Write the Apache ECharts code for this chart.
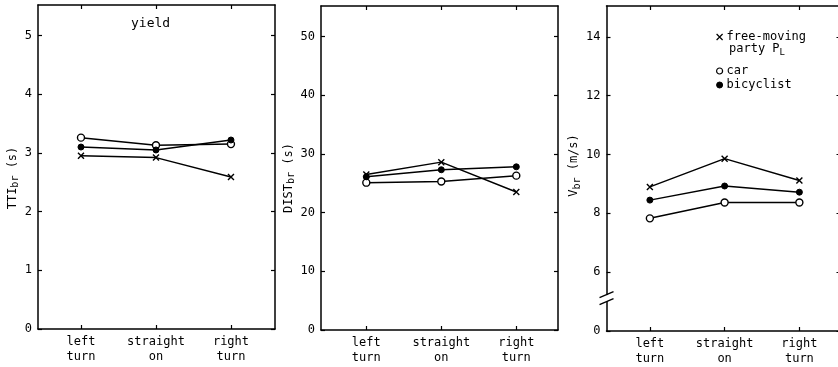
<!DOCTYPE html>
<html>
<head>
<meta charset="utf-8">
<script src="https://cdn.jsdelivr.net/npm/echarts@6/dist/echarts.min.js"></script>
<style>html,body{margin:0;padding:0;background:#fff;}#c{width:838px;height:367px;}</style>
</head>
<body>
<div id="c"></div>
<script>
// ---- data ----
const categories = ['left\nturn', 'straight\non', 'right\nturn'];
const seriesNames = ['free-moving', 'car', 'bicyclist'];

const ttiFree = [2.95, 2.92, 2.59];
const ttiCar  = [3.26, 3.13, 3.15];
const ttiBike = [3.10, 3.05, 3.22];

const distFree = [26.5, 28.6, 23.5];
const distCar  = [25.1, 25.3, 26.3];
const distBike = [26.1, 27.3, 27.8];

const vFree = [8.90, 9.86, 9.12];
const vCar  = [7.83, 8.37, 8.37];
const vBike = [8.45, 8.93, 8.72];

const ttiTicks = [0, 1, 2, 3, 4, 5];
const ttiTickLabels = ['0', '1', '2', '3', '4', '5'];
const distTicks = [0, 10, 20, 30, 40, 50];
const distTickLabels = ['0', '10', '20', '30', '40', '50'];
const vTicks = [4, 6, 8, 10, 12, 14];
const vTickLabels = ['0', '6', '8', '10', '12', '14']; // broken axis: bottom labelled 0

// ---- layout / style ----
const FONT = 'DejaVu Sans Mono';
const panels = [
  {left: 38, top: 5, width: 237, height: 324, xmin: -0.573, xmax: 2.587, ymin: 0, ymax: 5.52,
   ticks: ttiTicks, labels: ttiTickLabels, data: [ttiFree, ttiCar, ttiBike],
   name: '{a|TTI}{b|br}{a| (s)}', nameGap: 14, namePad: [0, 22, 0, 0]},
  {left: 321, top: 6, width: 237, height: 324, xmin: -0.604, xmax: 2.556, ymin: 0, ymax: 55.2,
   ticks: distTicks, labels: distTickLabels, data: [distFree, distCar, distBike],
   name: '{a|DIST}{b|br}{a| (s)}', nameGap: 22, namePad: [0, 20, 0, 0]},
  {left: 606.5, top: 6, width: 234, height: 325, xmin: -0.58, xmax: 2.55, ymin: 4, ymax: 15.05,
   ticks: vTicks, labels: vTickLabels, data: [vFree, vCar, vBike],
   name: '{a|V}{b|br}{a| (m/s)}', nameGap: 22, namePad: [0, 0, 0, 6]}
];
const catIdx = categories.map((c, i) => i);
const xPath = 'path://M0,0L10,10M10,0L0,10';
const symbolDefs = [
  {symbol: xPath, size: 6, itemStyle: {color: '#000', borderColor: '#000', borderWidth: 1.4}},
  {symbol: 'circle', size: 7, itemStyle: {color: '#fff', borderColor: '#000', borderWidth: 1.4}},
  {symbol: 'circle', size: 6, itemStyle: {color: '#000', borderColor: '#000', borderWidth: 1}}
];

const grid = [], xAxis = [], yAxis = [], series = [];
const lineAx = {show: true, onZero: false, lineStyle: {color: '#000', width: 1.5}};
const tickStyle = {color: '#000', width: 1.2};
panels.forEach((p, g) => {
  grid.push({left: p.left, top: p.top, width: p.width, height: p.height, containLabel: false, outerBoundsMode: 'none'});
  // bottom x
  xAxis.push({type: 'value', gridIndex: g, position: 'bottom', min: p.xmin, max: p.xmax,
    axisLine: lineAx, splitLine: {show: false},
    axisTick: {show: true, inside: true, length: 4, customValues: catIdx, lineStyle: tickStyle},
    axisLabel: {customValues: catIdx, formatter: v => categories[Math.round(v)], color: '#000',
      fontFamily: FONT, fontSize: 12, lineHeight: 15, margin: 5}});
  // top frame
  xAxis.push({type: 'value', gridIndex: g, position: 'top', min: p.xmin, max: p.xmax,
    axisLine: lineAx, splitLine: {show: false}, axisLabel: {show: false},
    axisTick: {show: true, inside: true, length: 4, customValues: catIdx, lineStyle: tickStyle}});
  // left y
  yAxis.push({type: 'value', gridIndex: g, position: 'left', min: p.ymin, max: p.ymax,
    axisLine: lineAx, splitLine: {show: false},
    axisTick: {show: true, inside: true, length: 4, customValues: p.ticks, lineStyle: tickStyle},
    axisLabel: {customValues: p.ticks, formatter: v => p.labels[p.ticks.indexOf(v)], color: '#000',
      fontFamily: FONT, fontSize: 12, margin: 6},
    name: p.name, nameLocation: 'middle', nameRotate: 90, nameGap: p.nameGap,
    nameTextStyle: {color: '#000', fontFamily: FONT, padding: p.namePad,
      rich: {a: {fontSize: 12, fontFamily: FONT, color: '#000', verticalAlign: 'middle', lineHeight: 16},
             b: {fontSize: 10, fontFamily: FONT, color: '#000', verticalAlign: 'bottom', lineHeight: 16, padding: [6, 0, 0, 0]}}}});
  // right frame
  yAxis.push({type: 'value', gridIndex: g, position: 'right', min: p.ymin, max: p.ymax,
    axisLine: lineAx, splitLine: {show: false}, axisLabel: {show: false},
    axisTick: {show: true, inside: true, length: 4, customValues: p.ticks, lineStyle: tickStyle}});
  p.data.forEach((vals, s) => {
    const sd = symbolDefs[s];
    series.push({type: 'line', name: seriesNames[s], xAxisIndex: g * 2, yAxisIndex: g * 2,
      data: vals.map((v, i) => [catIdx[i], v]),
      symbol: sd.symbol, symbolSize: sd.size, showAllSymbol: true, itemStyle: sd.itemStyle,
      lineStyle: {color: '#000', width: 1.5}, z: 3 + s, animation: false, silent: true});
  });
});

const chart = echarts.init(document.getElementById('c'), null, {renderer: 'canvas'});
const textGraphics = [
  {type: 'text', left: 131, top: 17, style: {text: 'yield', font: '13px "DejaVu Sans Mono"', fill: '#000'}},
  {type: 'text', left: 729, top: 41, style: {text: '{a|party P}{s|L}', fill: '#000',
    rich: {a: {fontFamily: FONT, fontSize: 12, verticalAlign: 'middle', lineHeight: 16},
           s: {fontFamily: FONT, fontSize: 9, verticalAlign: 'bottom', lineHeight: 16, padding: [7, 0, 0, 0]}}}}
];
chart.setOption({
  backgroundColor: '#fff',
  animation: false,
  grid, xAxis, yAxis, series,
  legend: [
    {data: [{name: 'free-moving', icon: xPath, itemStyle: {color: '#000', borderColor: '#000', borderWidth: 1.2}}],
     left: 711, top: 26, itemWidth: 6, itemHeight: 6, itemGap: 4, selectedMode: false,
     textStyle: {fontFamily: FONT, fontSize: 12, color: '#000', padding: [0, 0, 0, -1]}},
    {data: [{name: 'car', icon: 'circle', itemStyle: {color: '#fff', borderColor: '#000', borderWidth: 1.2}},
            {name: 'bicyclist', icon: 'circle', itemStyle: {color: '#000', borderColor: '#000', borderWidth: 1}}],
     orient: 'vertical', left: 711, top: 60, itemWidth: 6, itemHeight: 6, itemGap: 2, selectedMode: false,
     textStyle: {fontFamily: FONT, fontSize: 12, color: '#000', padding: [0, 0, 0, -1]}}
  ],
  graphic: textGraphics
});

// axis-break marks on the third panel's y axis
const bp = chart.convertToPixel({gridIndex: 2}, [panels[2].xmin, 5.12]);
chart.setOption({
  graphic: textGraphics.concat([
    {type: 'rect', shape: {x: bp[0] - 2, y: bp[1] - 3, width: 4, height: 6}, style: {fill: '#fff'}, z: 100},
    {type: 'line', shape: {x1: bp[0] - 7, y1: bp[1] - 0.5, x2: bp[0] + 7, y2: bp[1] - 6.5}, style: {stroke: '#000', lineWidth: 1.4}, z: 101},
    {type: 'line', shape: {x1: bp[0] - 7, y1: bp[1] + 6.5, x2: bp[0] + 7, y2: bp[1] + 0.5}, style: {stroke: '#000', lineWidth: 1.4}, z: 101}
  ])
}, {replaceMerge: ['graphic']});
</script>
</body>
</html>
